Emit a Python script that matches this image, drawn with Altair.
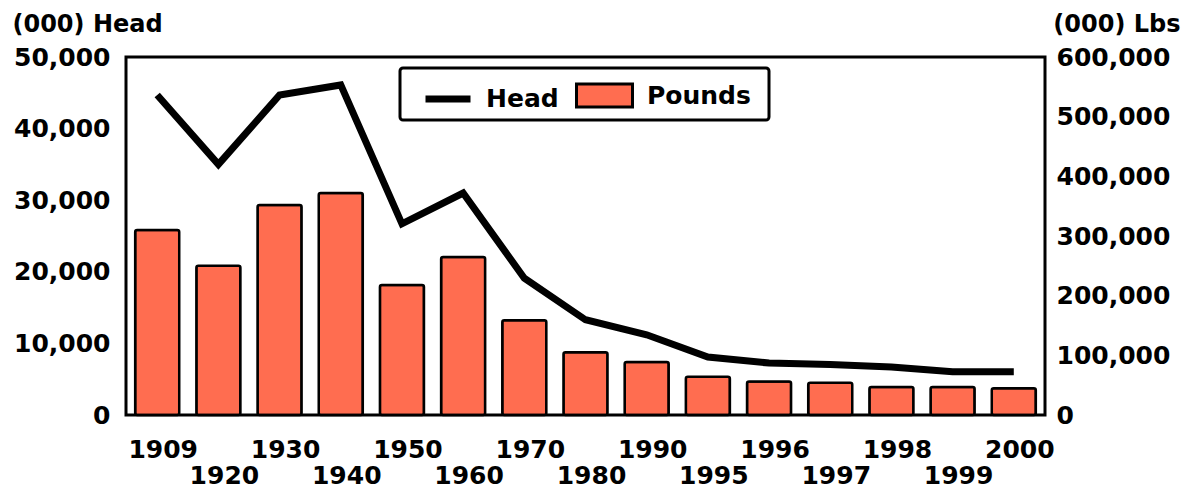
import altair as alt
import pandas as pd

years = ["1909", "1920", "1930", "1940", "1950", "1960", "1970", "1980",
         "1990", "1995", "1996", "1997", "1998", "1999", "2000"]
head = [44700, 35000, 44700, 46100, 26700, 31000, 19100, 13300,
        11200, 8100, 7250, 7050, 6700, 6050, 6050]
pounds = [310000, 250000, 352000, 372000, 218000, 265000, 159000, 105000,
          89000, 64000, 56000, 54000, 47000, 47000, 45000]
head_ticks = [0, 10000, 20000, 30000, 40000, 50000]
lbs_ticks = [0, 100000, 200000, 300000, 400000, 500000, 600000]

df = pd.DataFrame({"year": years, "head": head, "pounds": pounds,
                   "hs": ["Head"] * len(years), "ps": ["Pounds"] * len(years)})

FONT = "DejaVu Sans"
FS = 25
BAR = "#FF6D50"
W, H = 919, 358

year_list = "[" + ",".join("'%s'" % y for y in years) + "]"
label_expr = f"indexof({year_list}, datum.label) % 2 == 1 ? ['', datum.label] : datum.label"

x = alt.X("year:N", sort=years,
          scale=alt.Scale(paddingInner=0.28, paddingOuter=0.15),
          axis=alt.Axis(title=None, labelAngle=0, ticks=False, domain=False,
                        labelExpr=label_expr, labelLineHeight=26,
                        labelPadding=22, labelBaseline="top", labelOffset=6))

base = alt.Chart(df)

bars = base.mark_bar(stroke="black", strokeWidth=2.5, cornerRadius=2).encode(
    x=x,
    y=alt.Y("pounds:Q", scale=alt.Scale(domain=[0, 600000], nice=False),
            axis=alt.Axis(orient="right", values=lbs_ticks, format=",.0f",
                          title="(000) Lbs", titleAngle=0, titleAlign="right",
                          titleBaseline="alphabetic", titleX=135, titleY=-26,
                          ticks=False, domain=False, grid=False, labelPadding=11)),
    fill=alt.Fill("ps:N", scale=alt.Scale(domain=["Pounds"], range=[BAR]),
                  legend=alt.Legend(orient="none", legendX=449, legendY=9,
                                    title=None, padding=0,
                                    symbolType="M-1,-0.41L1,-0.41L1,0.41L-1,0.41Z",
                                    symbolSize=3136, symbolStrokeColor="black",
                                    symbolStrokeWidth=3, symbolFillColor=BAR,
                                    labelOffset=13)),
)

line = base.mark_line(strokeWidth=7, strokeJoin="miter", strokeCap="butt").encode(
    x=x,
    y=alt.Y("head:Q", scale=alt.Scale(domain=[0, 50000], nice=False),
            axis=alt.Axis(orient="left", values=head_ticks, format=",.0f",
                          title="(000) Head", titleAngle=0, titleAlign="left",
                          titleBaseline="alphabetic", titleX=-114, titleY=-26,
                          ticks=False, domain=False, grid=False, labelPadding=16)),
    stroke=alt.Stroke("hs:N", scale=alt.Scale(domain=["Head"], range=["black"]),
                      legend=alt.Legend(orient="none", legendX=296, legendY=16,
                                        title=None, padding=0,
                                        symbolType="stroke", symbolSize=2025,
                                        symbolStrokeWidth=7, labelOffset=12)),
)

box = alt.Chart(alt.Data(values=[{"a": 1}])).mark_rect(
    fill="white", stroke="black", strokeWidth=3, cornerRadius=3
).encode(x=alt.value(274), x2=alt.value(643), y=alt.value(11), y2=alt.value(63))

chart = alt.layer(bars, line, box).resolve_scale(
    y="independent", fill="independent", stroke="independent"
).properties(
    width=W, height=H,
    autosize=alt.AutoSizeParams(type="none"),
    padding={"left": 118, "top": 49, "right": 138, "bottom": 75},
).configure_view(
    stroke="black", strokeWidth=3
).configure_axis(
    labelFont=FONT, labelFontSize=FS, labelFontWeight="bold", labelColor="black",
    titleFont=FONT, titleFontSize=24, titleFontWeight="bold", titleColor="black",
).configure_legend(
    labelFont=FONT, labelFontSize=FS, labelFontWeight="bold", labelColor="black",
)

chart.save("out.html", embed_options={"renderer": "svg", "actions": False})
